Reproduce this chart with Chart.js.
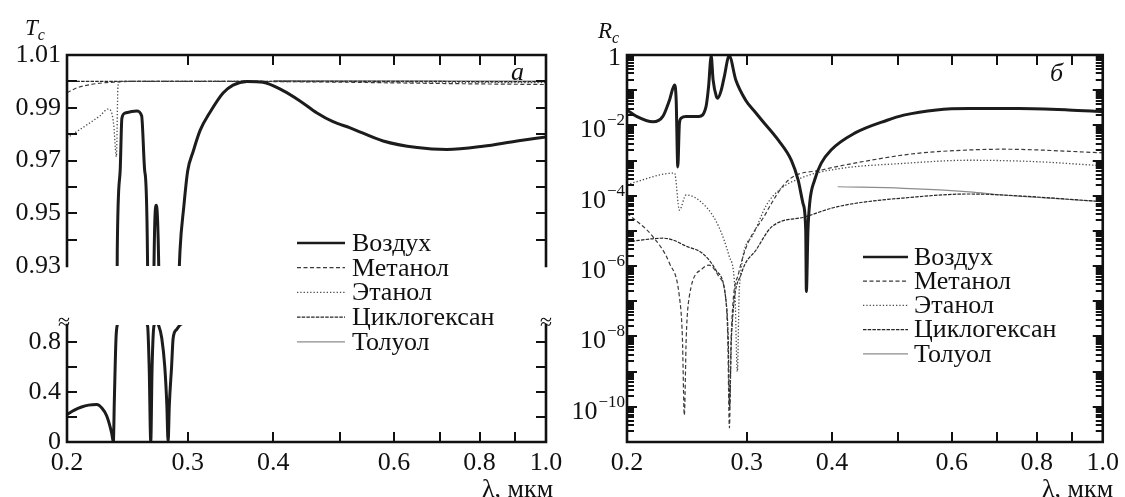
<!DOCTYPE html>
<html>
<head>
<meta charset="utf-8">
<script src="https://cdn.jsdelivr.net/npm/chart.js@4.4.0/dist/chart.umd.min.js"></script>
<style>
  body { margin: 0; background: #fff; }
  #wrap { position: relative; width: 1125px; height: 497px; overflow: hidden;
          font-family: "Liberation Serif", "Times New Roman", serif; color: #111; }
  #wrap canvas { position: absolute; left: 0; top: 0; }
  .lbl { position: absolute; white-space: nowrap; font-size: 26px; line-height: 1; }
  .it { font-style: italic; }
  .lbl sub { font-size: 16px; vertical-align: -5px; }
</style>
</head>
<body>
<div id="wrap">
  <canvas id="tTop" width="1125" height="497"></canvas>
  <canvas id="tBottom" width="1125" height="497"></canvas>
  <canvas id="rChart" width="1125" height="497"></canvas>
  <div class="lbl it" style="left:25px;top:16px;font-size:23px">T<sub>c</sub></div>
  <div class="lbl it" style="left:598px;top:19px;font-size:23px">R<sub>c</sub></div>
  <div class="lbl it" style="left:511px;top:59px">а</div>
  <div class="lbl it" style="left:1050px;top:60px">б</div>
  <div class="lbl" style="left:482px;top:476px">λ, мкм</div>
  <div class="lbl" style="left:1042px;top:476px">λ, мкм</div>
  <div class="lbl" style="left:58px;top:311px;font-size:22px">≈</div>
  <div class="lbl" style="left:540px;top:311px;font-size:22px">≈</div>
</div>
<script>
// wavelength ticks (мкм), shared by both panels
const xLabels = [0.2, 0.3, 0.4, 0.6, 0.8, 1.0];
const xMarks = [0.3, 0.4, 0.5, 0.6, 0.7, 0.8, 0.9];

// T_c panel ticks (broken axis)
const tUpperLabels = [0.93, 0.95, 0.97, 0.99, 1.01];
const tUpperMarks = [0.94, 0.95, 0.96, 0.97, 0.98, 0.99, 1.0];
const tLowerLabels = [0, 0.4, 0.8];
const tLowerMarks = [0.2, 0.4, 0.6, 0.8];

// R_c panel ticks
const rLabels = [1, 1e-2, 1e-4, 1e-6, 1e-8, 1e-10];
const rDecades = [1e-11, 1e-10, 1e-9, 1e-8, 1e-7, 1e-6, 1e-5, 1e-4, 1e-3, 1e-2, 1e-1, 1];

const names = ['Воздух', 'Метанол', 'Этанол', 'Циклогексан', 'Толуол'];

// transmittance T_c, [λ, T]
const tAir = [[0.200, 0.22], [0.205, 0.255], [0.210, 0.28], [0.215, 0.295], [0.221, 0.30], [0.225, 0.27],
  [0.2285, 0.21], [0.2324, 0.07], [0.2337, 0.0], [0.2345, 0.34], [0.2358, 0.83], [0.2368, 0.936],
  [0.2391, 0.966], [0.2405, 0.986], [0.2431, 0.988], [0.2527, 0.9888], [0.2570, 0.987], [0.2597, 0.966],
  [0.2622, 0.93], [0.2636, 0.6], [0.2650, 0.0], [0.2662, 0.6], [0.2679, 0.93], [0.2700, 0.953],
  [0.2722, 0.93], [0.2750, 0.83], [0.2778, 0.6], [0.2797, 0.3], [0.2809, 0.0], [0.2821, 0.3],
  [0.2842, 0.6], [0.2857, 0.83], [0.2891, 0.90], [0.2924, 0.936], [0.2960, 0.952], [0.300, 0.966],
  [0.3055, 0.9733], [0.3128, 0.9814], [0.3234, 0.9883], [0.3379, 0.9956], [0.3494, 0.9986],
  [0.3661, 1.0], [0.3864, 0.9997], [0.4133, 0.9965], [0.4375, 0.9926], [0.4633, 0.9880],
  [0.4889, 0.9847], [0.5178, 0.9824], [0.5785, 0.9774], [0.6487, 0.9749], [0.7171, 0.9742],
  [0.8093, 0.9754], [0.9071, 0.9774], [1.0, 0.9789]];
const tMethanol = [[0.200, 0.9957], [0.2066, 0.9975], [0.2135, 0.9985], [0.2233, 0.9993], [0.2336, 0.9997],
  [0.25, 1.0], [0.35, 1.0], [0.5, 0.9997], [0.7, 0.9992], [1.0, 0.9988]];
const tEthanol = [[0.200, 0.9785], [0.2135, 0.9834], [0.2233, 0.9869], [0.2296, 0.9895], [0.2322, 0.9884],
  [0.234, 0.9834], [0.2361, 0.9714], [0.2374, 0.9985], [0.2393, 1.0], [0.3, 1.0], [0.5, 0.9999],
  [0.7, 0.9997], [1.0, 0.9995]];
const tCyclohexane = [[0.200, 1.0], [0.5, 1.0], [1.0, 0.9999]];
const tToluene = [[0.400, 1.0003], [1.0, 1.0001]];

// reflectance R_c, [λ, R]
const rAir = [[0.200, 2.75e-2], [0.2066, 1.8e-2], [0.2184, 1.26e-2], [0.2258, 1.8e-2], [0.2309, 5.2e-2],
  [0.2349, 1.4e-1], [0.2362, 5.2e-2], [0.2375, 6.6e-4], [0.2388, 1.15e-2], [0.2402, 1.6e-2],
  [0.2441, 1.8e-2], [0.2551, 1.8e-2], [0.2613, 3.4e-2], [0.2636, 1.3e-1], [0.2659, 9.5e-1],
  [0.2676, 2.0e-1], [0.2706, 6.6e-2], [0.2718, 5.9e-2], [0.2751, 1.0e-1], [0.2779, 2.4e-1],
  [0.2826, 9.5e-1], [0.2890, 1.95e-1], [0.2988, 5.2e-2], [0.3085, 2.4e-2], [0.3156, 1.4e-2],
  [0.3337, 3.8e-3], [0.3489, 1.0e-3], [0.3568, 2.8e-4], [0.3628, 6.0e-5], [0.3661, 1.05e-5],
  [0.3669, 1.9e-7], [0.3689, 1.05e-5], [0.3710, 6.0e-5], [0.3773, 2.8e-4], [0.3857, 8.3e-4],
  [0.3989, 2.0e-3], [0.4313, 5.9e-3], [0.4822, 1.4e-2], [0.510, 1.95e-2],
  [0.570, 2.75e-2], [0.637, 3.0e-2], [0.753, 3.0e-2], [0.890, 2.75e-2], [1.0, 2.45e-2]];
const rMethanol = [[0.200, 3.2e-5], [0.2184, 6.8e-6], [0.2309, 1.2e-6], [0.2388, 1.35e-7], [0.2412, 1e-8],
  [0.2428, 5.8e-11], [0.2444, 1e-8], [0.2469, 1.35e-7], [0.2581, 8.5e-7], [0.2640, 1.07e-6],
  [0.2729, 5e-7], [0.2791, 1.35e-7], [0.2812, 1e-8], [0.2828, 2.5e-11], [0.2845, 1e-8],
  [0.2918, 6.3e-7], [0.3201, 3.2e-5], [0.3454, 2.8e-4], [0.3866, 5.4e-4], [0.456, 1.02e-3],
  [0.533, 1.6e-3], [0.637, 2.0e-3], [0.713, 2.1e-3], [1.0, 1.66e-3]];
const rEthanol = [[0.200, 2.1e-4], [0.2349, 4.4e-4], [0.2388, 3.9e-5], [0.2442, 1.05e-4], [0.2612, 4.9e-5],
  [0.2729, 1.3e-5], [0.2826, 1.9e-6], [0.2880, 2.5e-7], [0.2905, 1e-9], [0.2925, 2.5e-7],
  [0.3052, 6.9e-6], [0.3207, 5.5e-5], [0.3346, 1.45e-4], [0.3649, 3.5e-4], [0.408, 5.8e-4],
  [0.510, 8.3e-4], [0.637, 1.02e-3], [0.797, 9.3e-4], [1.0, 7.1e-4]];
const rCyclohexane = [[0.200, 4.9e-6], [0.2258, 6.2e-6], [0.2337, 5.5e-6], [0.2442, 3.7e-6], [0.2582, 2.3e-6],
  [0.2700, 7.8e-7], [0.2791, 1.35e-7], [0.2816, 1e-8], [0.2830, 1e-10], [0.2848, 1e-8],
  [0.2946, 6.2e-7], [0.31, 3.0e-6], [0.3262, 1.3e-5], [0.3649, 2.5e-5], [0.408, 4.9e-5],
  [0.533, 9.3e-5], [0.637, 1.12e-4], [0.713, 1.05e-4], [1.0, 6.8e-5]];
const rToluene = [[0.408, 1.8e-4], [0.510, 1.62e-4], [0.637, 1.29e-4], [0.713, 1.05e-4], [1.0, 6.8e-5]];

const FONT = '"Liberation Serif", "Times New Roman", serif';
Chart.defaults.font.family = FONT;
Chart.defaults.font.size = 26;
Chart.defaults.color = '#111';

const styles = [
  { borderColor: '#1c1c1c', borderWidth: 3, borderDash: [] },
  { borderColor: '#3a3a3a', borderWidth: 1.2, borderDash: [4, 2.5] },
  { borderColor: '#4a4a4a', borderWidth: 1.3, borderDash: [1.3, 2] },
  { borderColor: '#262626', borderWidth: 1.2, borderDash: [3.5, 1.2] },
  { borderColor: '#8c8c8c', borderWidth: 1.2, borderDash: [] },
];

function makeSets(lists) {
  return lists.map((pts, i) => ({
    label: names[i],
    data: pts.map(([x, y]) => ({ x, y })),
    ...styles[i],
    pointRadius: 0,
    fill: false,
    cubicInterpolationMode: 'monotone',
  }));
}

// frame lines and inward tick marks
const frameTicks = {
  id: 'frameTicks',
  afterDatasetsDraw(chart, args, o) {
    const { ctx, chartArea: a } = chart;
    const x = chart.scales.x, y = chart.scales.y;
    ctx.save();
    ctx.strokeStyle = '#111';
    ctx.lineWidth = 2;
    ctx.beginPath();
    for (const v of o.xMarks) {
      const px = Math.round(x.getPixelForValue(v));
      if (o.xSides.includes('top')) { ctx.moveTo(px, a.top); ctx.lineTo(px, a.top + o.len); }
      if (o.xSides.includes('bottom')) { ctx.moveTo(px, a.bottom); ctx.lineTo(px, a.bottom - o.len); }
    }
    for (const [list, len] of [[o.yMajor || [], o.len], [o.yMinor || [], o.minorLen]]) {
      for (const v of list) {
        const py = Math.round(y.getPixelForValue(v));
        ctx.moveTo(a.left, py); ctx.lineTo(a.left + len, py);
        ctx.moveTo(a.right, py); ctx.lineTo(a.right - len, py);
      }
    }
    ctx.stroke();
    ctx.lineWidth = 2.6;
    ctx.lineCap = 'square';
    ctx.beginPath();
    if (o.sides.includes('left')) { ctx.moveTo(a.left, a.top); ctx.lineTo(a.left, a.bottom); }
    if (o.sides.includes('right')) { ctx.moveTo(a.right, a.top); ctx.lineTo(a.right, a.bottom); }
    if (o.sides.includes('top')) { ctx.moveTo(a.left, a.top); ctx.lineTo(a.right, a.top); }
    if (o.sides.includes('bottom')) { ctx.moveTo(a.left, a.bottom); ctx.lineTo(a.right, a.bottom); }
    ctx.stroke();
    ctx.restore();
  }
};

// legend inside the plot
const insetLegend = {
  id: 'insetLegend',
  afterDraw(chart, args, o) {
    const ctx = chart.ctx;
    chart.data.datasets.forEach((ds, i) => {
      const y = o.y + i * o.row;
      ctx.save();
      ctx.strokeStyle = ds.borderColor;
      ctx.lineWidth = i === 0 ? 2.6 : 1.2;
      ctx.setLineDash(ds.borderDash);
      ctx.beginPath();
      ctx.moveTo(o.x, y);
      ctx.lineTo(o.x + o.len, y);
      ctx.stroke();
      ctx.setLineDash([]);
      ctx.fillStyle = '#111';
      ctx.font = '26px ' + FONT;
      ctx.textBaseline = 'middle';
      ctx.fillText(ds.label, o.x + o.len + o.gap, y + 1);
      ctx.restore();
    });
  }
};

// 10^n labels for the log axis
const powerLabels = {
  id: 'powerLabels',
  afterDraw(chart, args, o) {
    const { ctx, chartArea: a, scales: { y } } = chart;
    ctx.save();
    ctx.fillStyle = '#111';
    ctx.textAlign = 'right';
    ctx.textBaseline = 'alphabetic';
    for (const v of o.values) {
      const py = y.getPixelForValue(v);
      const e = Math.round(Math.log10(v));
      const right = a.left - o.pad;
      if (e === 0) {
        ctx.font = '26px ' + FONT;
        ctx.fillText('1', right - 4, py + 10);
        continue;
      }
      const sup = '\u2212' + Math.abs(e);
      ctx.font = '17px ' + FONT;
      ctx.fillText(sup, right, py);
      const w = ctx.measureText(sup).width;
      ctx.font = '26px ' + FONT;
      ctx.fillText('10', right - w - 1, py + 12);
    }
    ctx.restore();
  }
};

const fixW = w => s => { s.width = w; };
const fixH = h => s => { s.height = h; };
const setTicks = list => s => { s.ticks = list.map(v => ({ value: v })); };

const xAxis = (show) => ({
  type: 'logarithmic', min: 0.2, max: 1.0, display: show,
  afterFit: fixH(55), afterBuildTicks: setTicks(xLabels),
  grid: { display: false, drawTicks: false }, border: { display: false },
  ticks: { padding: 6, autoSkip: false, maxRotation: 0, callback: v => Number(v).toFixed(1) },
});

const base = (padding) => ({
  responsive: false, animation: false, events: [],
  layout: { padding },
});

// T_c, upper part of the broken axis
new Chart(document.getElementById('tTop'), {
  type: 'line',
  data: { datasets: makeSets([tAir, tMethanol, tEthanol, tCyclohexane, tToluene]) },
  options: {
    ...base({ left: 0, top: 55, right: 1125 - 546, bottom: 497 - 321 }),
    plugins: {
      legend: { display: false }, tooltip: { enabled: false },
      frameTicks: { sides: ['left', 'top', 'right'], xMarks, xSides: ['top'], yMajor: tUpperMarks, len: 10 },
      insetLegend: { x: 297, y: 243, len: 48, gap: 7, row: 24.7 },
    },
    scales: {
      x: xAxis(false),
      y: {
        type: 'linear', min: 0.93, max: 1.01,
        afterFit: fixW(67), afterBuildTicks: setTicks(tUpperLabels),
        grid: { display: false, drawTicks: false }, border: { display: false },
        ticks: { padding: 6, callback: v => Number(v).toFixed(2) },
      },
    },
  },
  plugins: [frameTicks, insetLegend],
});

// T_c, lower part of the broken axis
new Chart(document.getElementById('tBottom'), {
  type: 'line',
  data: { datasets: makeSets([tAir]) },
  options: {
    ...base({ left: 0, top: 325, right: 1125 - 546, bottom: 0 }),
    plugins: {
      legend: { display: false }, tooltip: { enabled: false },
      frameTicks: { sides: ['left', 'bottom', 'right'], xMarks, xSides: ['bottom'], yMajor: tLowerMarks, len: 10 },
    },
    scales: {
      x: xAxis(true),
      y: {
        type: 'linear', min: 0, max: 0.936,
        afterFit: fixW(67), afterBuildTicks: setTicks(tLowerLabels),
        grid: { display: false, drawTicks: false }, border: { display: false },
        ticks: { padding: 6, callback: v => (v === 0 ? '0' : Number(v).toFixed(1)) },
      },
    },
  },
  plugins: [frameTicks],
});

// R_c, log scale
const rMinor = [];
rDecades.slice(0, -1).forEach(d => { for (let k = 2; k <= 9; k++) rMinor.push(d * k); });

new Chart(document.getElementById('rChart'), {
  type: 'line',
  data: { datasets: makeSets([rAir, rMethanol, rEthanol, rCyclohexane, rToluene]) },
  options: {
    ...base({ left: 560, top: 55, right: 1125 - 1108, bottom: 0 }),
    plugins: {
      legend: { display: false }, tooltip: { enabled: false },
      frameTicks: { sides: ['left', 'top', 'right', 'bottom'], xMarks, xSides: ['top', 'bottom'],
                    yMajor: rDecades, yMinor: rMinor, len: 10, minorLen: 7 },
      insetLegend: { x: 863, y: 257, len: 45, gap: 6, row: 24.2 },
      powerLabels: { values: rLabels, pad: 2 },
    },
    scales: {
      x: xAxis(true),
      y: {
        type: 'logarithmic', min: 1e-11, max: 1,
        afterFit: fixW(67),
        grid: { display: false, drawTicks: false }, border: { display: false },
        ticks: { display: false },
      },
    },
  },
  plugins: [frameTicks, insetLegend, powerLabels],
});
</script>
</body>
</html>
